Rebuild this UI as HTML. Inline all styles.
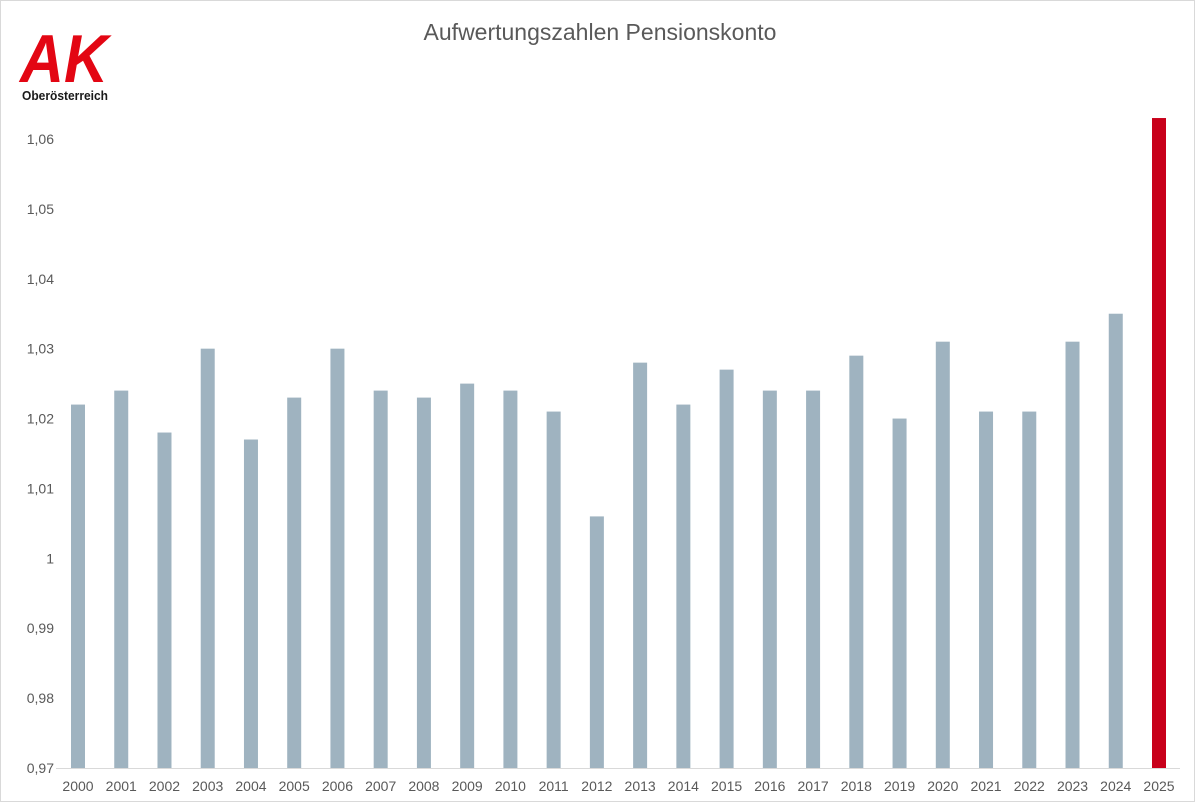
<!DOCTYPE html>
<html><head><meta charset="utf-8"><style>
html,body{margin:0;padding:0;background:#fff;}
svg{display:block;font-family:"Liberation Sans",sans-serif;}
</style></head><body>
<svg id="chart" width="1200" height="809" viewBox="0 0 1200 809">
<rect x="0.5" y="0.5" width="1194" height="801" fill="#fff" stroke="#d9d9d9"/>
<text x="600" y="40" text-anchor="middle" font-size="23" fill="#595959">Aufwertungszahlen Pensionskonto</text>
<g>
<text x="20" y="82" font-size="68" font-weight="bold" font-style="italic" fill="#e30613" textLength="88" lengthAdjust="spacingAndGlyphs">AK</text>
<text x="22" y="100" font-size="13" font-weight="bold" fill="#1a1a1a" textLength="86" lengthAdjust="spacingAndGlyphs">Oberösterreich</text>
</g>
<g id="yaxis"></g>
<g id="bars"></g>
<g id="xaxis"></g>
</svg>
<script>
const categories=["2000","2001","2002","2003","2004","2005","2006","2007","2008","2009","2010","2011","2012","2013","2014","2015","2016","2017","2018","2019","2020","2021","2022","2023","2024","2025"];
const values=[1.022,1.024,1.018,1.030,1.017,1.023,1.030,1.024,1.023,1.025,1.024,1.021,1.006,1.028,1.022,1.027,1.024,1.024,1.029,1.020,1.031,1.021,1.021,1.031,1.035,1.063];
const yTicks=[0.97,0.98,0.99,1.00,1.01,1.02,1.03,1.04,1.05,1.06];
const yTickLabels=["0,97","0,98","0,99","1","1,01","1,02","1,03","1,04","1,05","1,06"];
const NS="http://www.w3.org/2000/svg";
const y0=768,yTop=139,vMin=0.97,vMax=1.06;
const y=v=>y0-(v-vMin)/(vMax-vMin)*(y0-yTop);
const x0=78,step=(1159-78)/25;
const x=i=>x0+i*step;
function mk(t,a,p){const e=document.createElementNS(NS,t);for(const k in a)e.setAttribute(k,a[k]);p.appendChild(e);return e;}
const ya=document.getElementById('yaxis'),ba=document.getElementById('bars'),xa=document.getElementById('xaxis');
yTicks.forEach((v,i)=>{
 const t=mk('text',{x:54,y:y(v)+5,'text-anchor':'end','font-size':14,fill:'#595959'},ya);
 
 
 t.textContent=yTickLabels[i];
});
const ax=mk('line',{x1:56,x2:1180,y1:y0+0.5,y2:y0+0.5,stroke:'#d9d9d9'},xa);


values.forEach((v,i)=>{
 const last=i===values.length-1;
 const r=mk('rect',{x:x(i)-7,y:y(v),width:14,height:y0-y(v),fill:last?'#c8001a':'#9fb3c0'},ba);
 
 
 const t=mk('text',{x:x(i),y:791,'text-anchor':'middle','font-size':14,fill:'#595959'},xa);
 
 
 t.textContent=categories[i];
});
</script>
</body></html>
